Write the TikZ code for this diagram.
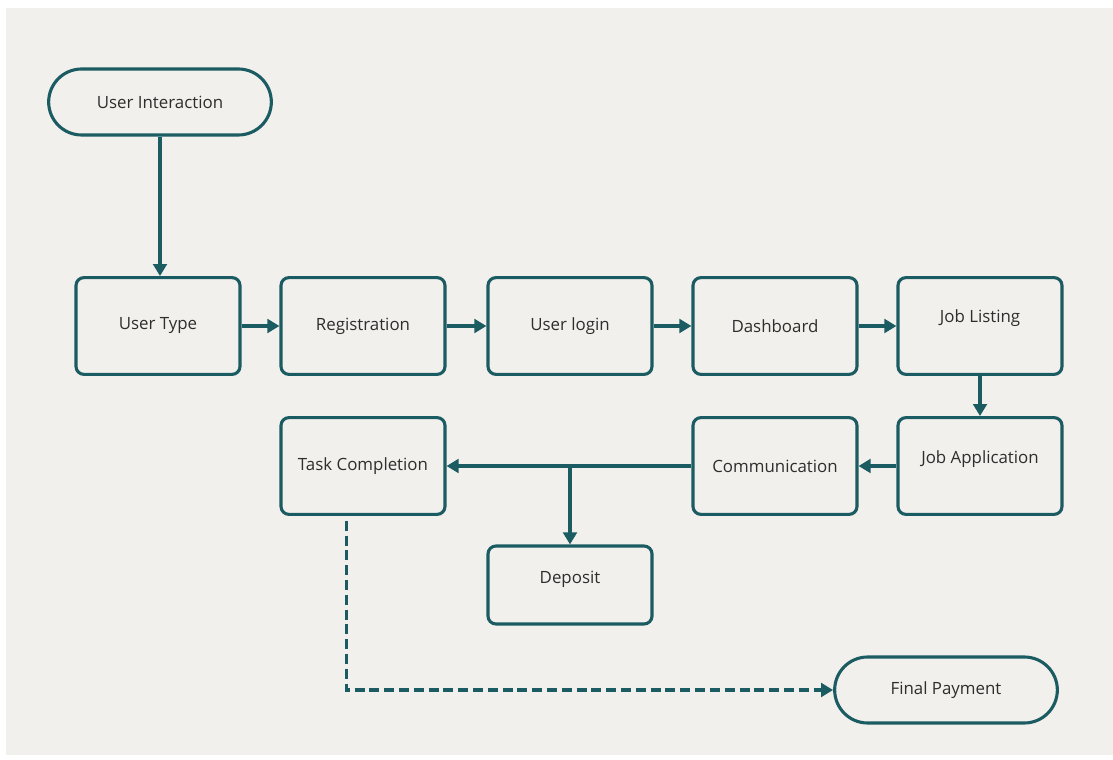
\documentclass[tikz,border=0pt]{standalone}
\usepackage{fontspec}
\setmainfont{Open Sans}
\usetikzlibrary{arrows.meta,shapes.misc}
\definecolor{teal}{HTML}{1B5B62}
\definecolor{paper}{HTML}{F2F0EC}
\definecolor{ink}{HTML}{2E2E2E}
\tikzset{
	stepbox/.style={draw=teal, line width=2.2pt, rounded corners=0.2cm, minimum width=4.1cm, minimum height=2.42cm, text=ink, font=\fontsize{12}{14}\selectfont},
	terminal/.style={draw=teal, line width=2.2pt, rounded rectangle, minimum width=5.8cm, minimum height=1.65cm, text=ink, font=\fontsize{12}{14}\selectfont},
	lifted/.style={text depth=#1},
	flow/.style={draw=teal, line width=2.2pt, -{Triangle[length=3mm, width=3.4mm]}}
}
\begin{document}
\begin{tikzpicture}[x=0.025cm, y=-0.025cm]
		\fill[white]	(0, 0) rectangle (1113, 760);
		\fill[paper]	(6, 8) rectangle (1113, 755);

		\node[terminal]	(ui)		at (160, 102)	{User Interaction};
		\node[stepbox]	(utype)		at (158, 326)	{User Type};
		\node[stepbox]	(reg)		at (363, 326)	{Registration};
		\node[stepbox]	(login)		at (570, 326)	{User login};
		\node[stepbox]	(dash)		at (775, 326)	{Dashboard};
		\node[stepbox, lifted=0.5cm]	(jlist)		at (980, 326)	{Job Listing};
		\node[stepbox, lifted=0.44cm]	(japp)		at (980, 466)	{Job Application};
		\node[stepbox]	(comm)		at (775, 466)	{Communication};
		\node[stepbox]	(task)		at (363, 466)	{Task Completion};
		\node[stepbox, lifted=0.4cm, minimum height=1.95cm]	(depo)	at (570, 585)	{Deposit};
		\node[terminal]	(final)		at (946, 690)	{Final Payment};

		\draw[flow]		(ui.south) to (ui.south |- utype.north);
		\draw[flow]		(utype) to (reg);
		\draw[flow]		(reg) to (login);
		\draw[flow]		(login) to (dash);
		\draw[flow]		(dash) to (jlist);
		\draw[flow]		(jlist) to (japp);
		\draw[flow]		(japp) to (comm);
		\draw[flow]		(comm) to (task);

		\coordinate (split) at (depo.north |- task.east);
		\draw[flow]		(split) to (depo.north);

		\coordinate (tasklow) at ([xshift=-0.42cm, yshift=-0.12cm]task.south);
		\draw[flow, dash pattern=on 2.5mm off 1.2mm]	(tasklow) |- (final.west);
	\end{tikzpicture}
\end{document}
